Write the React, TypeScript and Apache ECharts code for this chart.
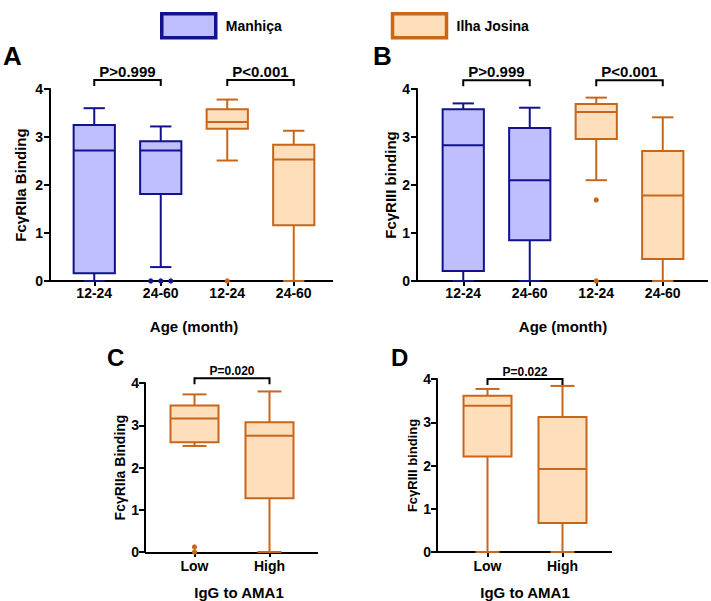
import { useEffect, useRef } from 'react';
import * as echarts from 'echarts';

const FONT = '"Liberation Sans", Arial, Helvetica, sans-serif';
const BLUE = { stroke: '#12128c', fill: '#bfbfff' };
const ORANGE = { stroke: '#c8661a', fill: '#ffdebb' };

// categories
const ageCategories = ['12-24', '24-60', '12-24', '24-60'];
const amaCategories = ['Low', 'High'];

// box statistics: [min, Q1, median, Q3, max]
const aManhicaCats = [0, 1];
const aManhica = [
  [0, 0.16, 2.72, 3.25, 3.6],
  [0.29, 1.81, 2.72, 2.91, 3.22],
];
const aIlhaCats = [2, 3];
const aIlha = [
  [2.51, 3.17, 3.31, 3.58, 3.78],
  [0, 1.16, 2.53, 2.84, 3.13],
];
const aManhicaOut = [[1, 0], [1, 0], [1, 0]];
const aIlhaOut = [[2, 0]];

const bManhicaCats = [0, 1];
const bManhica = [
  [0, 0.21, 2.83, 3.58, 3.7],
  [0, 0.85, 2.1, 3.19, 3.61],
];
const bIlhaCats = [2, 3];
const bIlha = [
  [2.1, 2.96, 3.52, 3.69, 3.82],
  [0, 0.46, 1.78, 2.71, 3.41],
];
const bIlhaOut = [[2, 1.69], [2, 0]];

const cIlhaCats = [0, 1];
const cIlha = [
  [2.51, 2.6, 3.16, 3.47, 3.73],
  [0, 1.27, 2.75, 3.07, 3.8],
];
const cIlhaOut = [[0, 0.12], [0, 0]];

const dIlhaCats = [0, 1];
const dIlha = [
  [0, 2.21, 3.38, 3.61, 3.77],
  [0, 0.67, 1.92, 3.12, 3.84],
];

// significance brackets: [fromCat, toCat]
const aPairs = [[0, 1], [2, 3]];
const aLabels = ['P>0.999', 'P<0.001'];
const bPairs = [[0, 1], [2, 3]];
const bLabels = ['P>0.999', 'P<0.001'];
const cPairs = [[0, 1]];
const cLabels = ['P=0.020'];
const dPairs = [[0, 1]];
const dLabels = ['P=0.022'];
const aLevel = 4.19;
const bLevel = 4.18;
const cLevel = 4.11;
const dLevel = 4.0;

// layout
const grids = [
  { left: 61, top: 89, width: 266, height: 192, yOffset: 11, xEnd: 333 },
  { left: 430, top: 89, width: 266, height: 192, yOffset: 13, xEnd: 708 },
  { left: 157, top: 383, width: 150, height: 170, yOffset: 12, xEnd: 318 },
  { left: 450, top: 379, width: 150, height: 173, yOffset: 13, xEnd: 612 },
];

function boxSeries(name: string, gi: number, cats: number[], stats: number[][], color: any, boxRatio: number, capRatio: number) {
  return {
    type: 'custom',
    name,
    xAxisIndex: gi,
    yAxisIndex: gi,
    clip: false,
    z: 3,
    data: stats.map((s, i) => [cats[i], ...s]),
    encode: { x: 0, y: [1, 2, 3, 4, 5] },
    itemStyle: { color: color.fill, borderColor: color.stroke },
    renderItem: (params: any, api: any) => {
      const c = api.value(0);
      const pMin = api.coord([c, api.value(1)]);
      const pQ1 = api.coord([c, api.value(2)]);
      const pMed = api.coord([c, api.value(3)]);
      const pQ3 = api.coord([c, api.value(4)]);
      const pMax = api.coord([c, api.value(5)]);
      const band = api.size([1, 0], [c, 0])[0];
      const hw = (band * boxRatio) / 2;
      const hc = (band * capRatio) / 2;
      const x = pMin[0];
      const ls = { stroke: color.stroke, lineWidth: 2 };
      return {
        type: 'group',
        children: [
          { type: 'line', shape: { x1: x, y1: pMax[1], x2: x, y2: pQ3[1] }, style: ls },
          { type: 'line', shape: { x1: x, y1: pQ1[1], x2: x, y2: pMin[1] }, style: ls },
          { type: 'line', shape: { x1: x - hc, y1: pMax[1], x2: x + hc, y2: pMax[1] }, style: ls },
          { type: 'line', shape: { x1: x - hc, y1: pMin[1], x2: x + hc, y2: pMin[1] }, style: ls },
          {
            type: 'rect',
            shape: { x: x - hw, y: pQ3[1], width: 2 * hw, height: pQ1[1] - pQ3[1] },
            style: { fill: color.fill, stroke: color.stroke, lineWidth: 2 },
          },
          { type: 'line', shape: { x1: x - hw, y1: pMed[1], x2: x + hw, y2: pMed[1] }, style: ls },
        ],
      };
    },
  };
}

function outlierSeries(name: string, gi: number, pts: number[][], color: any) {
  const data = pts.map((p, i) => {
    const same = pts.filter((q) => q[0] === p[0] && q[1] === p[1]).length;
    const rank = pts.slice(0, i).filter((q) => q[0] === p[0] && q[1] === p[1]).length;
    return [p[0], p[1], rank, same];
  });
  return {
    type: 'custom',
    name,
    xAxisIndex: gi,
    yAxisIndex: gi,
    clip: false,
    z: 4,
    data,
    encode: { x: 0, y: 1 },
    itemStyle: { color: color.fill, borderColor: color.stroke },
    renderItem: (params: any, api: any) => {
      const p = api.coord([api.value(0), api.value(1)]);
      const off = (api.value(2) - (api.value(3) - 1) / 2) * 10;
      return { type: 'circle', shape: { cx: p[0] + off, cy: p[1], r: 2.6 }, style: { fill: color.stroke } };
    },
  };
}

function bracketSeries(gi: number, pairs: number[][], labels: string[], level: number, fontSize: number) {
  return {
    type: 'custom',
    xAxisIndex: gi,
    yAxisIndex: gi,
    clip: false,
    z: 5,
    silent: true,
    data: pairs.map((p) => [p[0], p[1], level]),
    encode: { x: [0, 1], y: 2 },
    renderItem: (params: any, api: any) => {
      const a = api.coord([api.value(0), api.value(2)]);
      const b = api.coord([api.value(1), api.value(2)]);
      const leg = 6;
      return {
        type: 'group',
        children: [
          {
            type: 'polyline',
            shape: { points: [[a[0], a[1] + leg], [a[0], a[1]], [b[0], b[1]], [b[0], b[1] + leg]] },
            style: { stroke: '#000', lineWidth: 2, fill: 'none' },
          },
          {
            type: 'text',
            x: (a[0] + b[0]) / 2,
            y: a[1] - 1,
            style: {
              text: labels[params.dataIndex],
              fontSize,
              fontWeight: 'bold',
              fontFamily: FONT,
              fill: '#000',
              align: 'center',
              verticalAlign: 'bottom',
            },
          },
        ],
      };
    },
  };
}

const yNames = ['FcγRIIa Binding', 'FcγRIII binding', 'FcγRIIa Binding', 'FcγRIII binding'];
const yNameGaps = [22, 17, 17, 17];
const yNameSizes = [15, 15, 14, 13];
const xNames = ['Age (month)', 'Age (month)', 'IgG to AMA1', 'IgG to AMA1'];
const xNameGaps = [38, 38, 33, 33];
const letters = ['A', 'B', 'C', 'D'];
const letterPos = [
  { x: 3, y: 56, size: 26 },
  { x: 373, y: 56, size: 26 },
  { x: 107, y: 357, size: 24 },
  { x: 391, y: 357, size: 24 },
];

export default function App() {
  const ref = useRef<HTMLDivElement>(null);
  useEffect(() => {
    if (!ref.current) return;
    const chart = echarts.init(ref.current, null, { renderer: 'svg' });

    const xAxes = grids.map((g, i) => ({
      gridIndex: i,
      type: 'category',
      data: i < 2 ? ageCategories : amaCategories,
      axisLine: { show: false },
      axisTick: { show: true, alignWithLabel: true, length: 5, lineStyle: { color: '#000', width: 2 } },
      axisLabel: { fontFamily: FONT, fontWeight: 'bold', fontSize: 14, color: '#000', margin: i < 2 ? 5 : 7 },
      name: xNames[i],
      nameLocation: 'middle',
      nameGap: xNameGaps[i],
      nameTextStyle: {
        fontFamily: FONT,
        fontWeight: 'bold',
        fontSize: 15,
        color: '#000',
        padding: i === 2 ? [0, 0, 0, 14] : 0,
      },
    }));

    const yAxes = grids.map((g, i) => ({
      gridIndex: i,
      type: 'value',
      min: 0,
      max: 4,
      interval: 1,
      offset: g.yOffset,
      axisLine: { show: true, lineStyle: { color: '#000', width: 2 } },
      axisTick: { show: true, length: 6, lineStyle: { color: '#000', width: 2 } },
      axisLabel: { fontFamily: FONT, fontWeight: 'bold', fontSize: 14, color: '#000', margin: i < 2 ? 7 : 6 },
      splitLine: { show: false },
      name: yNames[i],
      nameLocation: 'middle',
      nameGap: yNameGaps[i],
      nameRotate: 90,
      nameTextStyle: { fontFamily: FONT, fontWeight: 'bold', fontSize: yNameSizes[i], color: '#000' },
    }));

    const graphic: any[] = [];
    grids.forEach((g, i) => {
      const y = g.top + g.height;
      graphic.push({
        type: 'line',
        z: 1,
        shape: { x1: g.left - g.yOffset, y1: y, x2: g.xEnd, y2: y },
        style: { stroke: '#000', lineWidth: 2 },
      });
      graphic.push({
        type: 'text',
        x: letterPos[i].x,
        y: letterPos[i].y,
        style: {
          text: letters[i],
          fontFamily: FONT,
          fontWeight: 'bold',
          fontSize: letterPos[i].size,
          fill: '#000',
          align: 'left',
          verticalAlign: 'middle',
        },
      });
    });

    chart.setOption({
      animation: false,
      backgroundColor: '#fff',
      legend: {
        left: 155,
        top: 7,
        itemWidth: 54,
        itemHeight: 24,
        itemGap: 109,
        icon: 'rect',
        selectedMode: false,
        textStyle: { fontFamily: FONT, fontWeight: 'bold', fontSize: 14, color: '#000', padding: [0, 0, 0, 5] },
        data: [
          { name: 'Manhiça', itemStyle: { color: BLUE.fill, borderColor: BLUE.stroke, borderWidth: 3.5 } },
          { name: 'Ilha Josina', itemStyle: { color: ORANGE.fill, borderColor: ORANGE.stroke, borderWidth: 3.5 } },
        ],
      },
      grid: grids.map((g) => ({ left: g.left, top: g.top, width: g.width, height: g.height, containLabel: false })),
      xAxis: xAxes,
      yAxis: yAxes,
      graphic,
      series: [
        boxSeries('Manhiça', 0, aManhicaCats, aManhica, BLUE, 0.62, 0.32),
        boxSeries('Ilha Josina', 0, aIlhaCats, aIlha, ORANGE, 0.62, 0.32),
        outlierSeries('Manhiça', 0, aManhicaOut, BLUE),
        outlierSeries('Ilha Josina', 0, aIlhaOut, ORANGE),
        bracketSeries(0, aPairs, aLabels, aLevel, 15),
        boxSeries('Manhiça', 1, bManhicaCats, bManhica, BLUE, 0.62, 0.32),
        boxSeries('Ilha Josina', 1, bIlhaCats, bIlha, ORANGE, 0.62, 0.32),
        outlierSeries('Ilha Josina', 1, bIlhaOut, ORANGE),
        bracketSeries(1, bPairs, bLabels, bLevel, 15),
        boxSeries('Ilha Josina', 2, cIlhaCats, cIlha, ORANGE, 0.64, 0.32),
        outlierSeries('Ilha Josina', 2, cIlhaOut, ORANGE),
        bracketSeries(2, cPairs, cLabels, cLevel, 12),
        boxSeries('Ilha Josina', 3, dIlhaCats, dIlha, ORANGE, 0.64, 0.32),
        bracketSeries(3, dPairs, dLabels, dLevel, 12),
      ],
    });
    return () => chart.dispose();
  }, []);
  return (
    <div
      ref={ref}
      style={{ position: 'fixed', left: 0, top: 0, width: 711, height: 601, background: '#fff' }}
    />
  );
}
